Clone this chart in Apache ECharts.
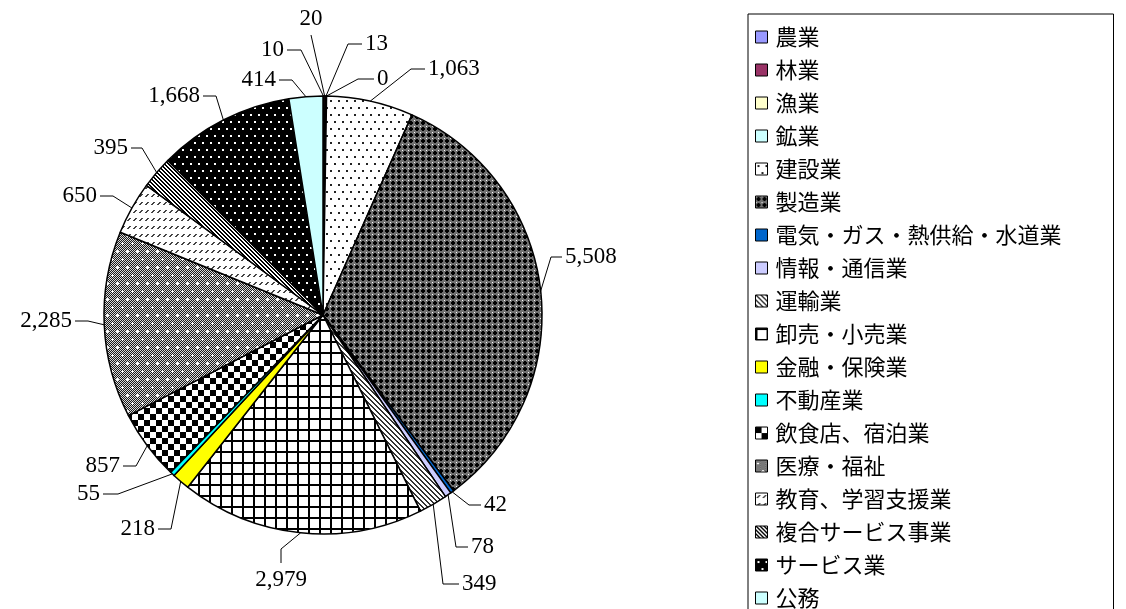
<!DOCTYPE html>
<html>
<head>
<meta charset="utf-8">
<script src="https://cdn.jsdelivr.net/npm/echarts@6/dist/echarts.min.js"></script>
<style>
  html, body { margin: 0; padding: 0; background: #fff; }
  #chart { width: 1126px; height: 609px; }
</style>
</head>
<body>
<div id="chart"></div>
<script>
// Employees by industry
const industries = [
  '農業', '林業', '漁業', '鉱業', '建設業', '製造業',
  '電気・ガス・熱供給・水道業', '情報・通信業', '運輸業', '卸売・小売業',
  '金融・保険業', '不動産業', '飲食店、宿泊業', '医療・福祉',
  '教育、学習支援業', '複合サービス事業', 'サービス業', '公務'
];
const employees = [
  10, 20, 13, 0, 1063, 5508,
  42, 78, 349, 2979,
  218, 55, 857, 2285,
  650, 395, 1668, 414
];

// Pie geometry
const CX = 323, CY = 315, R = 219;

// Label placement: [anchor x, anchor y, side, elbow length]
// 'R' = text right of the leader end, 'L' = left of it,
// 'B' = text below it, 'T' = text above it
const labelSpots = [
  [284, 50, 'L', 14], [311, 30, 'T', 0], [365, 44, 'R', 14], [377, 79, 'R', 16],
  [428, 69, 'R', 14], [565, 257, 'R', 11], [484, 505, 'R', 12], [471, 547, 'R', 12],
  [462, 584, 'R', 16], [281, 568, 'B', 14], [155, 529, 'L', 13], [100, 494, 'L', 15],
  [120, 466, 'L', 13], [72, 321, 'L', 13], [97, 196, 'L', 13], [128, 148, 'L', 11],
  [200, 96, 'L', 13], [276, 80, 'L', 13]
];

// Small repeating tiles used as fill patterns
function tile(w, h, draw) {
  const c = document.createElement('canvas');
  c.width = w; c.height = h;
  const g = c.getContext('2d');
  draw(g, w, h);
  return { image: c, repeat: 'repeat' };
}
function px(g, x, y, col) { g.fillStyle = col; g.fillRect(x, y, 1, 1); }

const dotsOnWhite = tile(8, 14, g => {
  g.fillStyle = '#fff'; g.fillRect(0, 0, 8, 14);
  g.fillStyle = '#222'; g.fillRect(2, 2, 2, 2); g.fillRect(6, 9, 2, 2);
});
const dotsOnBlack = tile(8, 14, g => {
  g.fillStyle = '#000'; g.fillRect(0, 0, 8, 14);
  g.fillStyle = '#fff'; g.fillRect(2, 2, 2, 2); g.fillRect(6, 9, 2, 2);
});
const trellis = tile(6, 6, g => {
  g.fillStyle = '#707070'; g.fillRect(0, 0, 6, 6);
  g.fillStyle = '#000';
  g.fillRect(2, 1, 2, 4); g.fillRect(1, 2, 4, 2);
  g.fillStyle = '#fff'; g.fillRect(0, 0, 1, 1);
});
const grayStars = tile(10, 16, g => {
  for (let y = 0; y < 16; y++) for (let x = 0; x < 10; x++)
    px(g, x, y, (x + y) % 2 ? '#1a1a1a' : '#d8d8d8');
  [[2, 3], [7, 11]].forEach(([cx, cy]) => {
    px(g, cx, cy, '#fff'); px(g, cx - 1, cy, '#fff'); px(g, cx + 1, cy, '#fff');
    px(g, cx, cy - 1, '#fff'); px(g, cx, cy + 1, '#fff');
  });
});
const thinStripes = tile(5, 5, g => {
  for (let y = 0; y < 5; y++) for (let x = 0; x < 5; x++)
    px(g, x, y, ((x - y + 10) % 5) < 2 ? '#333' : '#fff');
});
const boldStripes = tile(4, 4, g => {
  for (let y = 0; y < 4; y++) for (let x = 0; x < 4; x++)
    px(g, x, y, ((x - y + 8) % 4) < 2 ? '#000' : '#fff');
});
const bigGrid = tile(11, 11, g => {
  g.fillStyle = '#fff'; g.fillRect(0, 0, 11, 11);
  g.fillStyle = '#000'; g.fillRect(0, 0, 11, 2); g.fillRect(0, 0, 2, 11);
});
const checker = tile(12, 12, g => {
  g.fillStyle = '#fff'; g.fillRect(0, 0, 12, 12);
  g.fillStyle = '#000'; g.fillRect(0, 0, 6, 6); g.fillRect(6, 6, 6, 6);
});
const dashes = tile(6, 8, g => {
  g.fillStyle = '#fff'; g.fillRect(0, 0, 6, 8);
  [[1, 4], [2, 3], [3, 2], [2, 4], [3, 3], [4, 2]].forEach(([x, y]) => px(g, x, y, '#444'));
});

const fills = [
  '#9999FF', '#993366', '#FFFFCC', '#CCFFFF', dotsOnWhite, trellis,
  '#0066CC', '#CCCCFF', thinStripes, bigGrid,
  '#FFFF00', '#00FFFF', checker, grayStars,
  dashes, boldStripes, dotsOnBlack, '#CCFFFF'
];

// Point on the rim at the middle of each slice, measured clockwise from 12 o'clock
const total = employees.reduce((a, b) => a + b, 0);
const rimPoints = [];
{
  let acc = 0;
  employees.forEach(v => {
    const mid = (acc + v / 2) / total * 2 * Math.PI;
    rimPoints.push([CX + R * Math.sin(mid), CY - R * Math.cos(mid)]);
    acc += v;
  });
}

function placeLabel(params) {
  const i = params.dataIndex;
  const [x, y, side, elbow] = labelSpots[i];
  const p0 = rimPoints[i];
  if (side === 'B' || side === 'T') {
    const down = side === 'T' ? 1 : -1;
    const end = [x, y + down * 5];
    const mid = elbow ? [x, end[1] + down * elbow] : end;
    return {
      x, y, align: 'center', verticalAlign: side === 'T' ? 'bottom' : 'top',
      labelLinePoints: [p0, mid, end]
    };
  }
  const dir = side === 'R' ? -1 : 1;
  const end = [x + dir * 3, y];
  const mid = [end[0] + dir * elbow, y];
  return {
    x, y, align: side === 'R' ? 'left' : 'right', verticalAlign: 'middle',
    labelLinePoints: [p0, mid, end]
  };
}

const chart = echarts.init(document.getElementById('chart'), null, { renderer: 'canvas' });

chart.setOption({
  animation: false,
  legend: {
    orient: 'vertical',
    left: 748,
    top: 14,
    height: 800,
    padding: [12, 52, 40, 7],
    itemGap: 11,
    itemWidth: 12,
    itemHeight: 12,
    icon: 'rect',
    borderColor: '#000',
    borderWidth: 1,
    itemStyle: { borderColor: '#000', borderWidth: 1 },
    textStyle: {
      fontFamily: '"Noto Sans CJK JP", sans-serif', fontSize: 22, lineHeight: 22,
      color: '#000', padding: [0, 0, 0, 3]
    },
    data: industries
  },
  series: [{
    type: 'pie',
    center: [CX, CY],
    radius: R,
    startAngle: 90,
    clockwise: true,
    avoidLabelOverlap: false,
    minShowLabelAngle: 0,
    itemStyle: { borderColor: '#000', borderWidth: 1.5 },
    label: {
      show: true,
      position: 'outside',
      fontFamily: 'Liberation Serif, serif',
      fontSize: 23,
      color: '#000',
      formatter: p => p.value.toLocaleString('en-US')
    },
    labelLine: { show: true, length: 12, length2: 12, lineStyle: { color: '#000', width: 1 } },
    labelLayout: placeLabel,
    data: industries.map((name, i) => ({
      name,
      value: employees[i],
      itemStyle: { color: fills[i] }
    }))
  }]
});
</script>
</body>
</html>
